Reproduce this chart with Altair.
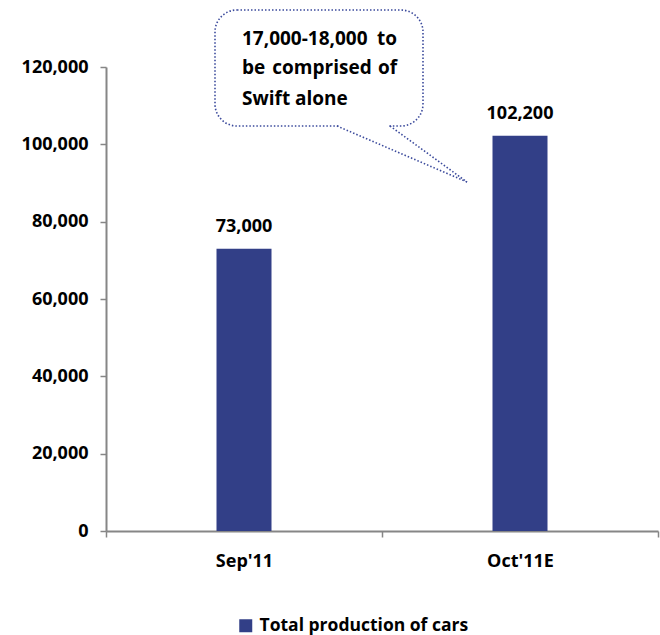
import altair as alt
import pandas as pd

# ---- data ----
categories = ["Sep'11", "Oct'11E"]
production = [73000, 102200]
value_labels = ["73,000", "102,200"]
series_name = "Total production of cars"
y_ticks = [0, 20000, 40000, 60000, 80000, 100000, 120000]
callout_line1 = ["17,000-18,000", "to"]
callout_line2 = ["be", "comprised", "of"]
callout_line3 = ["Swift alone"]

# ---- style ----
FONT = "Open Sans"
NAVY = "#323F87"
AXIS_GRAY = "#868686"
DOT = "#3B4A9C"

df = pd.DataFrame({
    "category": categories,
    "production": production,
    "label": value_labels,
    "series": [series_name] * len(categories),
})

base = alt.Chart(df)

xscale = alt.Scale(paddingInner=0, paddingOuter=0)

bars = base.mark_bar(size=55).encode(
    x=alt.X("category:N", sort=categories, title=None, scale=xscale,
            axis=alt.Axis(labelAngle=0, tickBand="extent", domainColor=AXIS_GRAY,
                          domainWidth=2, tickColor=AXIS_GRAY, tickWidth=1.5, tickSize=6,
                          labelFont=FONT, labelFontSize=18, labelFontWeight="bold",
                          labelColor="black", labelPadding=15)),
    y=alt.Y("production:Q", title=None,
            scale=alt.Scale(domain=[0, 120000], nice=False),
            axis=alt.Axis(values=y_ticks, format=",.0f", grid=False, domainColor=AXIS_GRAY,
                          domainWidth=2, tickColor=AXIS_GRAY, tickWidth=1.5, tickSize=6,
                          labelFont=FONT, labelFontSize=18, labelFontWeight="bold",
                          labelColor="black", labelPadding=12)),
    color=alt.Color("series:N", scale=alt.Scale(range=[NAVY]),
                    legend=alt.Legend(orient="none", legendX=131, legendY=550, title=None,
                                      symbolType="square", symbolSize=169,
                                      symbolStrokeWidth=0, labelFont=FONT,
                                      labelFontSize=17.5, labelFontWeight="bold",
                                      labelColor="black", labelOffset=5, padding=0,
                                      labelLimit=0)),
)

labels = base.mark_text(dy=-17, baseline="alphabetic", font=FONT, fontSize=18,
                        fontWeight="bold", color="black").encode(
    x=alt.X("category:N", sort=categories, scale=xscale),
    y=alt.Y("production:Q"),
    text="label:N",
)

one = pd.DataFrame({"k": [0]})
cb = alt.Chart(one)

box = cb.mark_rect(cornerRadius=22, fill="white", stroke=DOT, strokeWidth=1.6,
                   strokeDash=[1.5, 2]).encode(
    x=alt.value(109), x2=alt.value(317), y=alt.value(-57), y2=alt.value(59))
gap = cb.mark_rule(color="white", strokeWidth=4).encode(
    x=alt.value(233), x2=alt.value(282), y=alt.value(59))
tail1 = cb.mark_rule(color=DOT, strokeWidth=1.6, strokeDash=[1.5, 2]).encode(
    x=alt.value(231), y=alt.value(59), x2=alt.value(361), y2=alt.value(115))
tail2 = cb.mark_rule(color=DOT, strokeWidth=1.6, strokeDash=[1.5, 2]).encode(
    x=alt.value(284), y=alt.value(59), x2=alt.value(361), y2=alt.value(115))

def ctext(word, x, y, align):
    return alt.Chart(pd.DataFrame({"t": [word]})).mark_text(
        font=FONT, fontSize=19, fontWeight="bold", color="black",
        align=align, baseline="middle").encode(
        x=alt.value(x), y=alt.value(y), text="t:N")

texts = [
    ctext(callout_line1[0], 136, -28, "left"),
    ctext(callout_line1[1], 291, -28, "right"),
    ctext(callout_line2[0], 136, 1, "left"),
    ctext(callout_line2[1], 216, 1, "center"),
    ctext(callout_line2[2], 291, 1, "right"),
    ctext(callout_line3[0], 136, 32, "left"),
]

chart = alt.layer(bars, labels, box, gap, tail1, tail2, *texts).properties(
    width=552, height=464,
    autosize=alt.AutoSizeParams(type="none"),
    padding={"left": 106, "top": 67, "right": 2, "bottom": 104},
).configure_view(stroke=None)

chart.save("out.html", embed_options={"renderer": "svg", "actions": False})
